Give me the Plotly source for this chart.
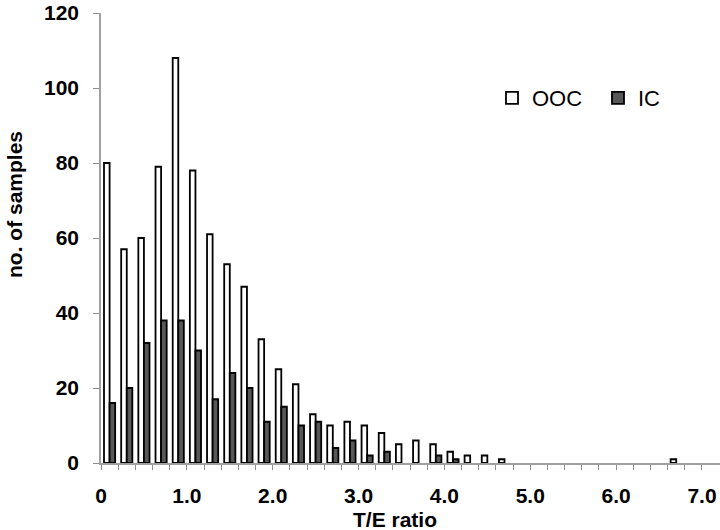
import plotly.graph_objects as go

# bin centres of 0.2-wide T/E ratio classes (0-0.2, 0.2-0.4, ... 6.8-7.0)
bin_centers = [round(0.1 + 0.2 * i, 1) for i in range(35)]

ooc = [80, 57, 60, 79, 108, 78, 61, 53, 47, 33, 25, 21, 13, 10, 11, 10, 8, 5,
       6, 5, 3, 2, 2, 1, 0, 0, 0, 0, 0, 0, 0, 0, 0, 1, 0]
ic = [16, 20, 32, 38, 38, 30, 17, 24, 20, 11, 15, 10, 11, 4, 6, 2, 3, 0,
      0, 2, 1, 0, 0, 0, 0, 0, 0, 0, 0, 0, 0, 0, 0, 0, 0]

x_tick_vals = [0, 1, 2, 3, 4, 5, 6, 7]
x_tick_text = ["0", "1.0", "2.0", "3.0", "4.0", "5.0", "6.0", "7.0"]
y_tick_vals = [0, 20, 40, 60, 80, 100, 120]

FONT = "Liberation Sans, Arial, sans-serif"


def outline_widths(values):
    # empty classes get no outline (no visible bar)
    return [1.8 if v > 0 else 0 for v in values]


fig = go.Figure()
fig.add_trace(go.Bar(
    x=bin_centers, y=ooc, name="OOC",
    marker=dict(color="white", line=dict(color="black", width=outline_widths(ooc))),
))
fig.add_trace(go.Bar(
    x=bin_centers, y=ic, name="IC",
    marker=dict(color="#585858", line=dict(color="black", width=outline_widths(ic))),
))

L, T, R, B = 101, 13, 0, 67
PW, PH = 720 - L - R, 530 - T - B

fig.update_layout(
    width=720, height=530,
    margin=dict(l=L, r=R, t=T, b=B, autoexpand=False),
    paper_bgcolor="white", plot_bgcolor="white",
    barmode="group", bargap=0.35, bargroupgap=0,
    font=dict(family=FONT, color="black"),
    showlegend=True,
    legend=dict(
        orientation="h", x=(492 - L) / PW, y=(463 - 98) / PH,
        xanchor="left", yanchor="middle",
        font=dict(family=FONT, size=22, color="black"),
        bgcolor="rgba(0,0,0,0)", entrywidth=61, itemwidth=30,
    ),
    xaxis=dict(
        range=[0, 7.21], automargin=False,
        tickmode="array", tickvals=x_tick_vals, ticktext=x_tick_text,
        tickfont=dict(family=FONT, size=21, color="black", weight="bold"),
        ticks="outside", ticklen=5, tickcolor="#8c8c8c", tickwidth=1,
        ticklabelstandoff=8,
        minor=dict(tickmode="array",
                   tickvals=[round(0.2 * i, 1) for i in range(36)],
                   ticks="outside", ticklen=5, tickcolor="#8c8c8c", tickwidth=1),
        showline=True, linecolor="#a0a0a0", linewidth=1.5,
        showgrid=False, zeroline=False,
    ),
    yaxis=dict(
        range=[0, 120], automargin=False,
        tickmode="array", tickvals=y_tick_vals,
        tickfont=dict(family=FONT, size=21, color="black", weight="bold"),
        ticks="outside", ticklen=6, tickcolor="#8c8c8c", tickwidth=1,
        ticklabelstandoff=10,
        showline=True, linecolor="#a0a0a0", linewidth=1.5,
        showgrid=False, zeroline=False,
    ),
    annotations=[
        dict(text="<b>T/E ratio</b>", xref="paper", yref="paper",
             x=(395 - L) / PW, y=-(519 - 463) / PH, xanchor="center", yanchor="middle",
             showarrow=False, font=dict(family=FONT, size=21, color="black")),
        dict(text="<b>no. of samples</b>", xref="paper", yref="paper",
             x=-(L - 14) / PW, y=(463 - 205) / PH, xanchor="center", yanchor="middle",
             textangle=-90, showarrow=False,
             font=dict(family=FONT, size=21, color="black")),
    ],
)

fig.write_html(
    "out.html",
    config={"displayModeBar": False},
    post_script="document.body.style.margin='0px';document.body.style.overflow='hidden';",
)
